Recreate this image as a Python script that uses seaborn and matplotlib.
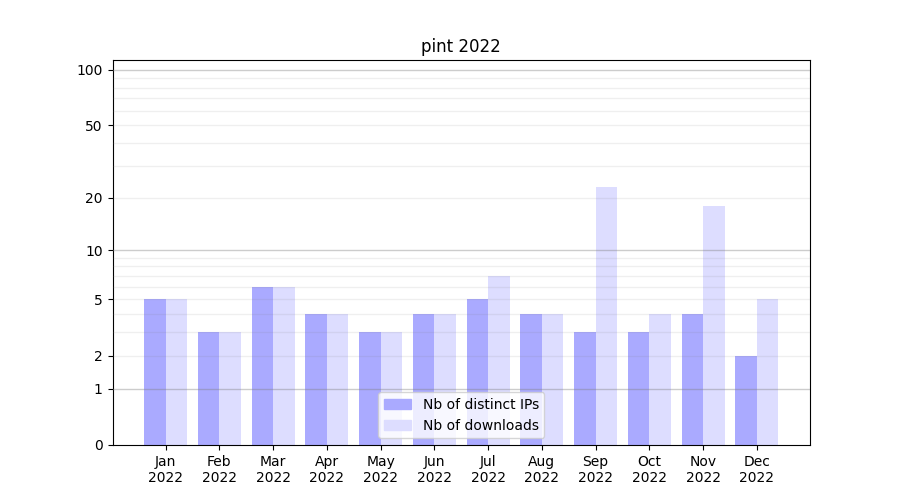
import matplotlib
matplotlib.use("Agg")
import matplotlib.pyplot as plt
import numpy as np
import pandas as pd
import seaborn as sns

meses = ["Jan", "Feb", "Mar", "Apr", "May", "Jun", "Jul", "Aug", "Sep", "Oct", "Nov", "Dec"]
ano = "2022"
ips = [5, 3, 6, 4, 3, 4, 5, 4, 3, 3, 4, 2]
downloads = [5, 3, 6, 4, 3, 4, 7, 4, 23, 4, 18, 5]
yticks = [0, 1, 2, 5, 10, 20, 50, 100]


def fwd(y):
    return np.log10(1 + np.clip(y, 0, None))


def inv(y):
    return 10 ** y - 1


df = pd.DataFrame({
    "mes": meses * 2,
    "valor": ips + downloads,
    "serie": ["Nb of distinct IPs"] * 12 + ["Nb of downloads"] * 12,
})

fig, ax = plt.subplots(figsize=(9, 5), dpi=100)

sns.barplot(data=df, x="mes", y="valor", hue="serie", ax=ax,
            palette=["#aaaaff", "#ddddff"], saturation=1, width=0.8,
            errorbar=None, legend=False)

ax.set_yscale("function", functions=(fwd, inv))
ax.set_ylim(0, 113)
ax.set_xlim(-0.99, 11.99)
ax.set_yticks(yticks)
ax.set_yticklabels([str(v) for v in yticks])

# linhas de grade: decadas mais escuras, intermediarias claras
for v in [1, 10, 100]:
    ax.axhline(v, color="gray", alpha=0.4, lw=1, zorder=3)
for v in list(range(2, 10)) + list(range(20, 100, 10)):
    ax.axhline(v, color="gray", alpha=0.12, lw=1, zorder=3)

ax.set_xticks(range(12))
ax.set_xticklabels([m + "\n" + ano for m in meses])
ax.set_xlabel("")
ax.set_ylabel("")
ax.set_title("pint " + ano)

handles = [plt.Rectangle((0, 0), 1, 1, color="#aaaaff"),
           plt.Rectangle((0, 0), 1, 1, color="#ddddff")]
ax.legend(handles, ["Nb of distinct IPs", "Nb of downloads"], loc="lower center")

plt.savefig("out.png", dpi=100)
